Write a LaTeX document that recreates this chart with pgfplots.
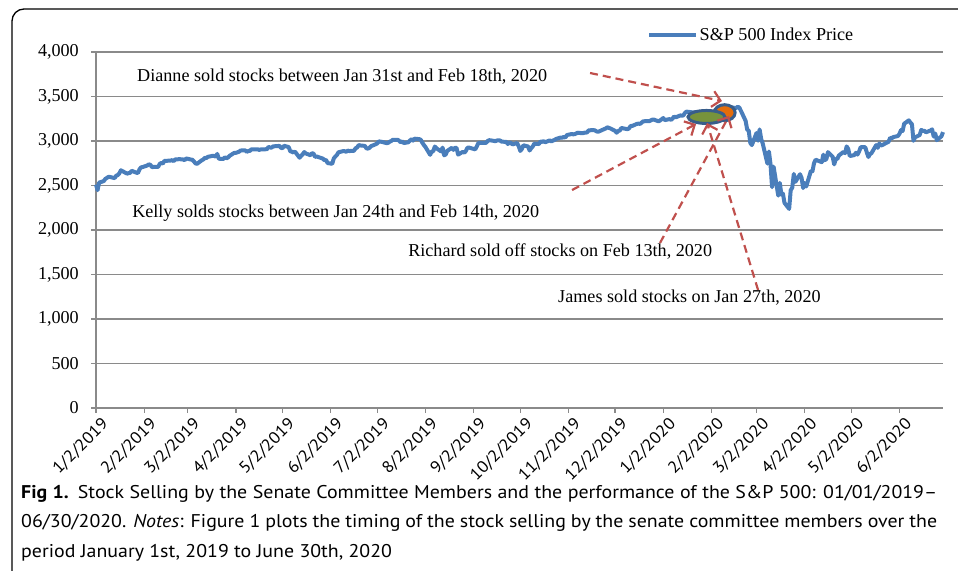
\documentclass[border=0pt]{standalone}
\usepackage{fontspec}
\setmainfont{Liberation Serif}
\newfontfamily\capfont[FakeStretch=1.08]{PT Sans}
\usepackage{pgfplots}
\pgfplotsset{compat=1.18}
\usetikzlibrary{arrows.meta}
\definecolor{spblue}{HTML}{4A7EBB}
\definecolor{arrred}{HTML}{C0504D}
\definecolor{gridgray}{HTML}{8A8A8A}
\definecolor{ellgreen}{HTML}{77933C}
\definecolor{ellorange}{HTML}{E46C0A}
\definecolor{ellblue}{HTML}{385D8A}
\newcommand{\tfont}{\fontsize{18.2}{20}\selectfont}
\begin{document}
\begin{tikzpicture}
\path[use as bounding box] (0,0) rectangle (958bp,571bp);
\draw[line width=1.3bp, rounded corners=12bp] (12bp,-2bp) -- (12bp,562bp) -- (960bp,562bp);
\begin{axis}[
  at={(96bp,163bp)}, anchor=south west,
  scale only axis, width=847bp, height=356bp,
  xmin=1, xmax=546, ymin=0, ymax=4000,
  clip=false,
  axis x line*=bottom, axis y line*=left,
  axis line style={gridgray, line width=1.5bp, -},
  ytick={0,500,...,4000},
  ymajorgrids, grid style={gridgray, line width=1.6bp},
  xtick={1,32,60,91,121,152,182,213,244,274,305,335,366,397,426,457,487,518},
  xticklabels={1/2/2019,2/2/2019,3/2/2019,4/2/2019,5/2/2019,6/2/2019,7/2/2019,8/2/2019,9/2/2019,10/2/2019,11/2/2019,12/2/2019,1/2/2020,2/2/2020,3/2/2020,4/2/2020,5/2/2020,6/2/2020},
  tick align=outside, major tick length=5bp,
  tick style={gridgray, line width=1.3bp},
  /pgf/number format/1000 sep={,},
  /pgf/number format/assume math mode=true,
  scaled y ticks=false,
  yticklabel style={font=\tfont, anchor=east, inner sep=0pt, xshift=-12bp},
  xticklabel style={font=\capfont\fontsize{16.5}{18}\selectfont, rotate=45, anchor=east, inner sep=0pt, xshift=1bp, yshift=-13bp},
  legend style={at={(0.6505,1.0478)}, anchor=west, draw=none, fill=none, font=\tfont, inner sep=0pt,
    nodes={inner sep=1.5bp}},
  legend image code/.code={\draw[#1] (0bp,0bp) -- (47bp,0bp);},
]
\addplot[spblue, line width=4bp, line join=round] table {
x y
1 2510
2 2448
3 2532
6 2550
7 2574
8 2585
9 2597
10 2596
13 2583
14 2610
15 2617
16 2636
17 2671
21 2633
22 2639
23 2643
24 2665
27 2644
28 2640
29 2682
30 2704
31 2707
34 2725
35 2738
36 2732
37 2707
38 2708
41 2709
42 2744
43 2753
44 2746
45 2776
49 2780
50 2785
51 2774
52 2793
55 2796
56 2793
57 2793
58 2784
59 2804
62 2792
63 2789
64 2771
65 2749
66 2743
69 2783
70 2792
71 2811
72 2808
73 2822
76 2833
77 2832
78 2824
79 2855
80 2801
83 2798
84 2818
85 2805
86 2816
87 2834
90 2867
91 2867
92 2873
93 2879
94 2893
97 2895
98 2878
99 2888
100 2888
101 2907
104 2905
105 2907
106 2900
107 2905
111 2908
112 2934
113 2927
114 2926
115 2940
118 2943
119 2946
120 2924
121 2918
122 2946
125 2932
126 2884
127 2880
128 2871
129 2881
132 2812
133 2834
134 2851
135 2876
136 2860
139 2840
140 2864
141 2857
142 2822
143 2826
147 2802
148 2783
149 2789
150 2752
153 2744
154 2804
155 2826
156 2843
157 2873
160 2886
161 2885
162 2879
163 2892
164 2887
167 2890
168 2918
169 2926
170 2954
171 2950
174 2945
175 2918
176 2914
177 2924
178 2942
181 2964
182 2973
183 2996
185 2990
188 2976
189 2979
190 2993
191 3000
192 3014
195 3014
196 3004
197 2985
198 2996
199 2977
202 2986
203 3005
204 3020
205 3004
206 3026
209 3021
210 3013
211 2980
212 2954
213 2932
216 2845
217 2882
218 2884
219 2938
220 2919
223 2883
224 2926
225 2840
226 2848
227 2889
230 2924
231 2900
232 2924
233 2922
234 2847
237 2878
238 2869
239 2888
240 2924
241 2926
245 2906
246 2938
247 2976
248 2979
251 2979
252 2980
253 3000
254 3009
255 3007
258 2998
259 3006
260 3006
261 3006
262 2992
265 2991
266 2966
267 2984
268 2977
269 2962
272 2977
273 2940
274 2888
275 2910
276 2952
279 2938
280 2893
281 2919
282 2938
283 2970
286 2966
287 2995
288 2990
289 2998
290 2986
293 3007
294 2996
295 3005
296 3011
297 3023
300 3039
301 3036
302 3047
303 3038
304 3067
307 3078
308 3075
309 3077
310 3085
311 3093
314 3087
315 3092
316 3094
317 3097
318 3120
321 3122
322 3120
323 3108
324 3104
325 3110
328 3134
329 3141
330 3154
332 3141
335 3114
336 3093
337 3113
338 3117
339 3146
342 3136
343 3133
344 3142
345 3169
346 3169
349 3192
350 3195
351 3192
352 3205
353 3221
356 3224
357 3223
359 3240
360 3240
363 3221
364 3231
366 3258
367 3235
370 3246
371 3237
372 3253
373 3275
374 3265
377 3288
378 3283
379 3289
380 3317
381 3330
385 3321
386 3321
387 3326
388 3295
391 3244
392 3276
393 3273
394 3284
395 3226
398 3249
399 3298
400 3334
401 3345
402 3328
405 3352
406 3358
407 3379
408 3374
409 3380
413 3370
414 3386
415 3373
416 3338
419 3226
420 3128
421 3116
422 2979
423 2954
426 3090
427 3003
428 3130
429 3024
430 2972
433 2747
434 2882
435 2741
436 2481
437 2711
440 2386
441 2529
442 2398
443 2409
444 2305
447 2237
448 2447
449 2476
450 2630
451 2541
454 2627
455 2585
456 2471
457 2527
458 2489
461 2664
462 2660
463 2750
464 2790
468 2762
469 2846
470 2784
471 2800
472 2875
475 2823
476 2737
477 2799
478 2798
479 2837
482 2878
483 2863
484 2939
485 2912
486 2831
489 2842
490 2868
491 2848
492 2881
493 2930
496 2930
497 2870
498 2820
499 2852
500 2864
503 2954
504 2923
505 2972
506 2949
507 2955
511 2992
512 3036
513 3030
514 3044
517 3056
518 3081
519 3123
520 3112
521 3194
524 3232
525 3207
526 3190
527 3002
528 3041
531 3067
532 3125
533 3113
534 3115
535 3098
538 3118
539 3131
540 3050
541 3084
542 3009
545 3053
546 3100
};
\addlegendentry{S\&P 500 Index Price}
% highlighted selling window
\draw[ellblue, line width=3bp, fill=ellorange] (axis cs:405.5,3318) ellipse [x radius=10.5bp, y radius=8bp];
\draw[ellblue, line width=3bp, fill=ellgreen] (axis cs:393.8,3270) ellipse [x radius=18.5bp, y radius=6.5bp];
% annotations
\begin{scope}[arrred, line width=2.2bp, dash pattern=on 8bp off 5bp, -{Straight Barb[length=8bp, width=16bp, line width=2.2bp]}]
\draw (axis cs:318.9,3764) -- (axis cs:403.8,3449);
\draw (axis cs:307.3,2449) -- (axis cs:387.1,3191);
\draw (axis cs:363.9,1854) -- (axis cs:408.3,3281);
\draw (axis cs:427,1326) -- (axis cs:394.2,3202);
\end{scope}
\node[font=\tfont, anchor=west, inner sep=0pt] at (axis cs:27.4,3719) {Dianne sold stocks between Jan 31st and Feb 18th, 2020};
\node[font=\tfont, anchor=west, inner sep=0pt] at (axis cs:24.2,2191) {Kelly solds stocks between Jan 24th and Feb 14th, 2020};
\node[font=\tfont, anchor=west, inner sep=0pt] at (axis cs:201.8,1753) {Richard sold off stocks on Feb 13th, 2020};
\node[font=\tfont, anchor=west, inner sep=0pt] at (axis cs:298.3,1236) {James sold stocks on Jan 27th, 2020};
\end{axis}
\node[anchor=base west, inner sep=0pt, font=\capfont\fontsize{18.5}{20}\selectfont] at (21bp,72bp)
  {\makebox[916bp][s]{\textbf{Fig 1.}\enspace Stock Selling by the Senate Committee Members and the performance of the S\&P 500: 01/01/2019\textendash}};
\node[anchor=base west, inner sep=0pt, font=\capfont\fontsize{18.5}{20}\selectfont] at (21bp,43bp)
  {\makebox[916bp][s]{06/30/2020. \textit{Notes}: Figure 1 plots the timing of the stock selling by the senate committee members over the}};
\node[anchor=base west, inner sep=0pt, font=\capfont\fontsize{18.5}{20}\selectfont] at (21bp,14bp)
  {period January 1st, 2019 to June 30th, 2020};
\end{tikzpicture}
\end{document}
